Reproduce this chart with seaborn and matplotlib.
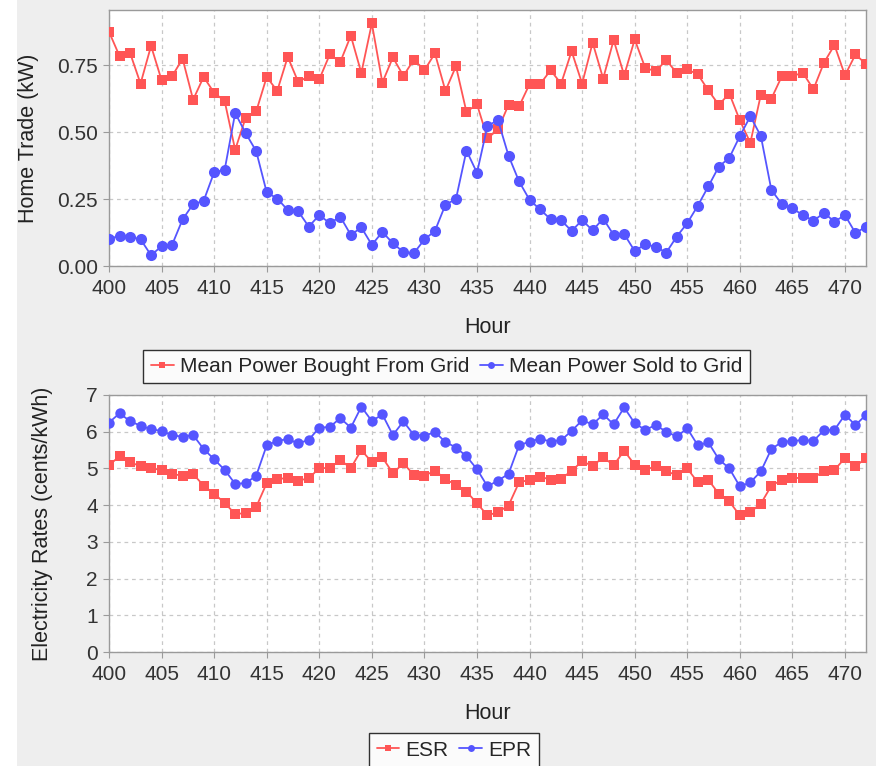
import matplotlib
matplotlib.use('Agg')
import matplotlib.pyplot as plt
import seaborn as sns
import pandas as pd
from matplotlib.patches import Rectangle
from matplotlib.lines import Line2D

# --- Data ---
hours = list(range(400, 473))

bought = [0.875, 0.784, 0.796, 0.681, 0.822, 0.694, 0.709, 0.774, 0.621, 0.706,
          0.647, 0.616, 0.434, 0.554, 0.577, 0.706, 0.654, 0.781, 0.687, 0.709,
          0.697, 0.790, 0.762, 0.860, 0.721, 0.906, 0.685, 0.779, 0.710, 0.771,
          0.731, 0.794, 0.654, 0.746, 0.575, 0.604, 0.477, 0.510, 0.602, 0.596,
          0.679, 0.679, 0.731, 0.681, 0.802, 0.681, 0.834, 0.700, 0.844, 0.712,
          0.846, 0.740, 0.727, 0.769, 0.721, 0.734, 0.716, 0.656, 0.602, 0.644,
          0.544, 0.460, 0.640, 0.625, 0.709, 0.710, 0.721, 0.660, 0.759, 0.825,
          0.712, 0.790, 0.754]

sold = [0.102, 0.112, 0.109, 0.100, 0.040, 0.074, 0.079, 0.174, 0.231, 0.243,
        0.350, 0.359, 0.571, 0.496, 0.429, 0.275, 0.252, 0.209, 0.204, 0.147,
        0.190, 0.160, 0.184, 0.116, 0.144, 0.079, 0.127, 0.085, 0.052, 0.048,
        0.099, 0.131, 0.229, 0.250, 0.431, 0.348, 0.524, 0.544, 0.412, 0.316,
        0.247, 0.211, 0.175, 0.171, 0.131, 0.171, 0.133, 0.177, 0.116, 0.119,
        0.056, 0.081, 0.072, 0.050, 0.110, 0.160, 0.225, 0.297, 0.371, 0.404,
        0.485, 0.559, 0.485, 0.284, 0.231, 0.215, 0.190, 0.169, 0.198, 0.166,
        0.190, 0.123, 0.147]

esr = [5.09, 5.33, 5.17, 5.06, 5.00, 4.96, 4.85, 4.80, 4.85, 4.53,
       4.31, 4.06, 3.76, 3.78, 3.95, 4.60, 4.71, 4.74, 4.67, 4.73,
       5.01, 5.01, 5.23, 5.01, 5.50, 5.17, 5.30, 4.87, 5.14, 4.82,
       4.80, 4.94, 4.71, 4.55, 4.37, 4.05, 3.72, 3.81, 3.99, 4.62,
       4.69, 4.78, 4.69, 4.71, 4.94, 5.19, 5.07, 5.30, 5.09, 5.48,
       5.10, 4.96, 5.06, 4.92, 4.82, 5.00, 4.62, 4.69, 4.31, 4.10,
       3.72, 3.81, 4.04, 4.53, 4.69, 4.74, 4.74, 4.73, 4.94, 4.96,
       5.28, 5.06, 5.28]

epr = [6.25, 6.50, 6.29, 6.16, 6.07, 6.02, 5.91, 5.86, 5.91, 5.53,
       5.25, 4.96, 4.58, 4.60, 4.80, 5.63, 5.75, 5.80, 5.68, 5.78,
       6.11, 6.13, 6.37, 6.11, 6.68, 6.29, 6.47, 5.91, 6.28, 5.91,
       5.89, 5.99, 5.72, 5.57, 5.33, 4.98, 4.51, 4.67, 4.85, 5.63,
       5.73, 5.81, 5.73, 5.77, 6.02, 6.31, 6.20, 6.47, 6.20, 6.66,
       6.23, 6.05, 6.18, 6.00, 5.87, 6.09, 5.63, 5.71, 5.25, 5.00,
       4.51, 4.62, 4.92, 5.53, 5.72, 5.75, 5.77, 5.75, 6.04, 6.05,
       6.46, 6.18, 6.46]

x_ticks = list(range(400, 471, 5))
trade_ticks = [0.00, 0.25, 0.50, 0.75]
rate_ticks = list(range(0, 8))

RED = '#ff5555'
BLUE = '#5555ff'
BG = '#eeeeee'

sns.set_theme(style='white')
plt.rcParams['font.family'] = ['Liberation Sans', 'DejaVu Sans']
plt.rcParams['axes.unicode_minus'] = False

df = pd.DataFrame({'Hour': hours, 'bought': bought, 'sold': sold,
                   'esr': esr, 'epr': epr})

fig = plt.figure(figsize=(8.76, 7.66), dpi=100, facecolor=BG)
# white strip down the left edge, as in the screenshot
fig.patches.append(Rectangle((0, 0), 17 / 876, 1, transform=fig.transFigure,
                             facecolor='white', edgecolor='none', zorder=-1))

ax1 = fig.add_axes([109 / 876, 1 - 266 / 766, 757 / 876, 256 / 766])
ax2 = fig.add_axes([109 / 876, 1 - 652 / 766, 757 / 876, 257 / 766])


def style_axes(ax, yticks, yfmt, ylabel, ylim, label_x):
    ax.set_facecolor('white')
    ax.set_xlim(400, 472)
    ax.set_ylim(*ylim)
    ax.set_xticks(x_ticks)
    ax.set_yticks(yticks)
    ax.set_yticklabels([yfmt.format(v) for v in yticks])
    ax.grid(True, color='#c8c8c8', linestyle=(0, (3, 3)), linewidth=0.9)
    for s in ax.spines.values():
        s.set_color('#9a9a9a')
        s.set_linewidth(1.0)
    ax.tick_params(axis='both', direction='out', length=4, width=0.8,
                   color='#9a9a9a', labelsize=15, labelcolor='#333333',
                   bottom=True, left=True)
    ax.tick_params(axis='x', pad=5)
    ax.tick_params(axis='y', pad=4)
    ax.set_xlabel('Hour', fontsize=15.5, color='#222222', labelpad=14)
    ax.set_ylabel(ylabel, fontsize=15.5, color='#222222')
    ax.yaxis.set_label_coords(label_x, 0.5)


# --- Top: home trade ---
sns.lineplot(data=df, x='Hour', y='bought', ax=ax1, color=RED, marker='s',
             markersize=7.5, markeredgewidth=0, linewidth=1.3, zorder=3)
sns.lineplot(data=df, x='Hour', y='sold', ax=ax1, color=BLUE, marker='o',
             markersize=8, markeredgewidth=0, linewidth=1.3, zorder=4)
style_axes(ax1, trade_ticks, '{:.2f}', 'Home Trade (kW)', (0, 0.956), -0.093)

# --- Bottom: electricity rates ---
sns.lineplot(data=df, x='Hour', y='esr', ax=ax2, color=RED, marker='s',
             markersize=7, markeredgewidth=0, linewidth=1.3, zorder=3)
sns.lineplot(data=df, x='Hour', y='epr', ax=ax2, color=BLUE, marker='o',
             markersize=7.5, markeredgewidth=0, linewidth=1.3, zorder=4)
style_axes(ax2, rate_ticks, '{:d}', 'Electricity Rates (cents/kWh)', (0, 7), -0.074)


def legend_handles(labels):
    return [Line2D([0], [0], color=RED, marker='s', markersize=5,
                   markeredgewidth=0, linewidth=1.3, label=labels[0]),
            Line2D([0], [0], color=BLUE, marker='o', markersize=5,
                   markeredgewidth=0, linewidth=1.3, label=labels[1])]


for handles, cx, cy in [(legend_handles(['Mean Power Bought From Grid',
                                         'Mean Power Sold to Grid']),
                         446.5 / 876, 1 - 366.5 / 766),
                        (legend_handles(['ESR', 'EPR']),
                         454 / 876, 1 - 750 / 766)]:
    leg = fig.legend(handles=handles, loc='center', bbox_to_anchor=(cx, cy),
                     ncol=2, frameon=True, fancybox=False, fontsize=15,
                     handlelength=1.1, handletextpad=0.3, columnspacing=0.5,
                     borderpad=0.35)
    leg.get_frame().set_edgecolor('black')
    leg.get_frame().set_linewidth(1.0)
    leg.get_frame().set_facecolor('white')

fig.savefig('out.png', dpi=100, facecolor=BG)
